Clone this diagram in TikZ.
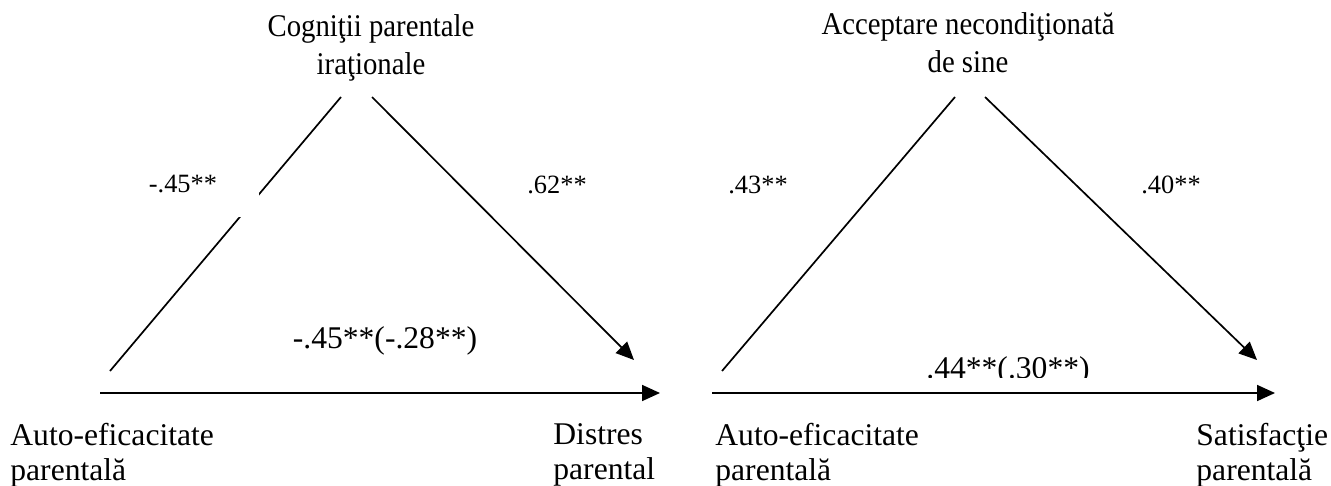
\documentclass[tikz,border=0pt]{standalone}
\usepackage{fontspec}
\setmainfont{Liberation Serif}
\newfontfamily\narrowserif{Liberation Serif}[FakeStretch=0.91]
\usetikzlibrary{arrows.meta}
\begin{document}
\begin{tikzpicture}[
        x=0.5pt,
        y=-0.5pt,
        var/.style={font=\fontsize{15.8}{17.5}\selectfont, inner sep=0pt},
        med/.style={font=\narrowserif\fontsize{15.8}{19}\selectfont, inner sep=0pt},
        coef/.style={font=\fontsize{13.2}{15}\selectfont, inner sep=0pt},
        total/.style={font=\fontsize{15.8}{17.5}\selectfont, inner sep=0pt},
        link/.style={line width=0.85pt},
        arr/.style={link, -{Triangle[length=9pt,width=8pt]}}
    ]
    \useasboundingbox (0,0) rectangle (1331,486);

    % model 1: cognitii parentale irationale
    \coordinate (X1) at (110,371);
    \coordinate (M1a) at (341,97);
    \coordinate (M1b) at (372,97);
    \coordinate (Y1) at (634,360);
    \coordinate (X1h) at (100,393);
    \coordinate (Y1h) at (660,393);

    \draw[link] (X1) -- (M1a);
    \draw[arr] (M1b) -- (Y1);
    \draw[arr] (X1h) -- (Y1h);
    \fill[white] (140,168) rectangle (259,217);

    \node[med, align=center, anchor=north] (med1) at (371,14) {Cogniţii parentale\\iraţionale};
    \node[var, align=left, anchor=north west] (pred1) at (10,423) {Auto-eficacitate\\parentală};
    \node[var, align=left, anchor=north west] (out1) at (553,423) {Distres\\parental};
    \node[coef] (a1) at (183,184) {-.45**};
    \node[coef] (b1) at (557,185) {.62**};
    \node[total] (c1) at (385,341) {-.45**(-.28**)};

    % model 2: acceptare neconditionata de sine
    \coordinate (X2) at (722,371);
    \coordinate (M2a) at (955,97);
    \coordinate (M2b) at (985,97);
    \coordinate (Y2) at (1257,360);
    \coordinate (X2h) at (712,393);
    \coordinate (Y2h) at (1275,393);

    \draw[link] (X2) -- (M2a);
    \draw[arr] (M2b) -- (Y2);
    \draw[arr] (X2h) -- (Y2h);

    \node[med, align=center, anchor=north] (med2) at (968,12) {Acceptare necondiţionată\\de sine};
    \node[var, align=left, anchor=north west] (pred2) at (715,423) {Auto-eficacitate\\parentală};
    \node[var, align=left, anchor=north west] (out2) at (1196,423) {Satisfacţie\\parentală};
    \node[coef] (a2) at (758,185) {.43**};
    \node[coef] (b2) at (1171,185) {.40**};
    \begin{scope}
        \clip (900,330) rectangle (1120,377);
        \node[total] (c2) at (1008,371) {.44**(.30**)};
    \end{scope}
\end{tikzpicture}
\end{document}
